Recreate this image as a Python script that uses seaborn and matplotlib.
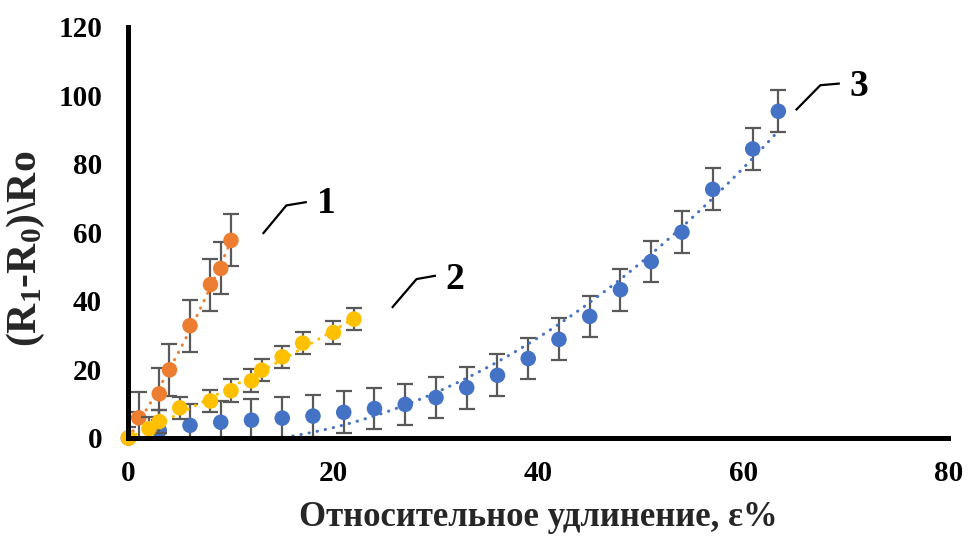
import matplotlib
matplotlib.use("Agg")
import matplotlib.pyplot as plt
import numpy as np
import pandas as pd
import seaborn as sns

# Series 3 (blue)
blue_x = [0, 3, 6, 9, 12, 15, 18, 21, 24, 27, 30, 33, 36, 39, 42, 45, 48, 51, 54, 57, 60.9, 63.4]
blue_y = [0, 2.2, 3.7, 4.6, 5.2, 5.8, 6.4, 7.5, 8.6, 9.8, 11.8, 14.7, 18.3, 23.2, 28.8, 35.5,
          43.3, 51.5, 60.1, 72.6, 84.4, 95.4]
blue_err = 6.1

# Series 1 (orange)
orange_x = [0, 1, 3, 4, 6, 8, 9, 10]
orange_y = [0, 5.9, 12.9, 19.9, 32.8, 44.8, 49.5, 57.7]
orange_err = 7.6

# Series 2 (yellow)
yellow_x = [0, 2, 3, 5, 8, 10, 12, 13, 15, 17, 20, 22]
yellow_y = [0, 2.7, 4.8, 8.8, 10.8, 13.8, 16.7, 19.8, 23.7, 27.7, 30.8, 34.7]
yellow_err = 3.3

x_ticks = [0, 20, 40, 60, 80]
y_ticks = [0, 20, 40, 60, 80, 100, 120]

colors = {"blue": "#4472C4", "orange": "#ED7D31", "yellow": "#FFC000"}
err_color = "#595959"

sns.set_theme(style="white")
plt.rcParams["font.family"] = ["Liberation Serif", "DejaVu Serif"]
plt.rcParams["font.weight"] = "bold"
plt.rcParams["mathtext.default"] = "regular"


def origin_quadratic(xs, ys, n=200):
    """Least-squares trend y = a*x^2 + b*x with the intercept fixed at zero."""
    x = np.asarray(xs, float)
    y = np.asarray(ys, float)
    coef, *_ = np.linalg.lstsq(np.column_stack([x ** 2, x]), y, rcond=None)
    xf = np.linspace(x.min(), x.max(), n)
    return pd.DataFrame({"x": xf, "y": coef[0] * xf ** 2 + coef[1] * xf})


fig = plt.figure(figsize=(9.72, 5.41), dpi=100)
ax = fig.add_axes([0.1322, 0.1904, 0.9758 - 0.1322, 0.9501 - 0.1904])

series = [
    (blue_x, blue_y, blue_err, colors["blue"]),
    (orange_x, orange_y, orange_err, colors["orange"]),
    (yellow_x, yellow_y, yellow_err, colors["yellow"]),
]

for i, (xs, ys, err, col) in enumerate(series):
    base = 3 + i * 3
    df = pd.DataFrame({"x": xs, "y": ys})
    ax.errorbar(df["x"], df["y"], yerr=err, fmt="none", ecolor=err_color,
                elinewidth=1.6, capsize=5.5, capthick=1.6, zorder=base)
    trend = origin_quadratic(xs, ys)
    sns.lineplot(data=trend, x="x", y="y", color=col, lw=2.2, linestyle=(0, (0.1, 2.6)),
                 dash_capstyle="round", zorder=base + 1, ax=ax, legend=False)
    sns.scatterplot(data=df, x="x", y="y", color=col, s=125, edgecolor="none",
                    linewidth=0, zorder=base + 2, clip_on=False, ax=ax, legend=False)

ax.set_xlim(0, 80)
ax.set_ylim(0, 120)
ax.set_xticks(x_ticks)
ax.set_yticks(y_ticks)
ax.set_xticklabels([str(v) for v in x_ticks], fontsize=21, fontweight="bold")
ax.set_yticklabels([str(v) for v in y_ticks], fontsize=21, fontweight="bold")
ax.tick_params(axis="both", direction="in", length=5, width=3.5, colors="black")
ax.tick_params(axis="x", pad=16)
ax.tick_params(axis="y", pad=19)

for side in ("top", "right"):
    ax.spines[side].set_visible(False)
for side in ("left", "bottom"):
    ax.spines[side].set_linewidth(3.6)
    ax.spines[side].set_color("black")
    ax.spines[side].set_zorder(20)

ax.set_xlabel("Относительное удлинение, ε%", fontsize=25, fontweight="bold", labelpad=10)
ax.set_ylabel(r"(R$_1$-R$_0$)\Ro", fontsize=30, fontweight="bold")
ax.yaxis.set_label_coords(-0.099, 0.46)

# Curve labels with leader lines
labels = [
    ("1", [(13.1, 59.6), (15.4, 67.9), (17.4, 68.9)], (19.3, 68.5)),
    ("2", [(25.7, 38.0), (28.1, 46.4), (30.0, 47.4)], (31.8, 46.2)),
    ("3", [(65.1, 95.7), (67.5, 103.0), (69.4, 103.5)], (71.3, 102.7)),
]
for text, pts, pos in labels:
    px, py = zip(*pts)
    ax.plot(px, py, color="black", lw=1.6, solid_capstyle="butt", zorder=30)
    ax.text(pos[0], pos[1], text, fontsize=27, fontweight="bold", ha="center",
            va="center", color="black", zorder=30)

fig.savefig("out.png", dpi=100)
